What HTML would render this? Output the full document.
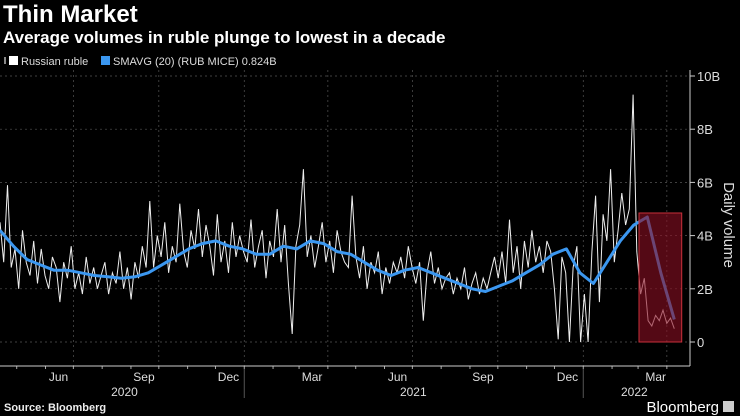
<!DOCTYPE html>
<html><head><meta charset="utf-8"><style>
body{margin:0;background:#000;width:740px;height:416px;overflow:hidden;font-family:"Liberation Sans",sans-serif;color:#fff}
#title{position:absolute;left:3px;top:1px;font-size:24px;font-weight:bold}
#sub{position:absolute;left:3px;top:28px;font-size:17px;font-weight:bold}
svg{position:absolute;left:0;top:0}
</style></head><body>
<div id="title">Thin Market</div>
<div id="sub">Average volumes in ruble plunge to lowest in a decade</div>
<svg id="c" width="740" height="416"></svg>
<script>
const yTicks=[0,2,4,6,8,10];
const yTickLabels=["0","2B","4B","6B","8B","10B"];
const monthTicks=["2020-06-15","2020-09-15","2020-12-15","2021-03-15","2021-06-15","2021-09-15","2021-12-15","2022-03-20"];
const monthLabels=["Jun","Sep","Dec","Mar","Jun","Sep","Dec","Mar"];
const yearLabels=["2020","2021","2022"];
const yearCenters=["2020-08-25","2021-07-02","2022-02-25"];
const yearBounds=["2021-01-01","2022-01-01"];
const seriesStart="2020-04-13", seriesEnd="2022-04-09", smaEnd="2022-04-09";
const ruble=[4.5,3.0,5.9,2.8,3.5,2.0,4.2,3.0,2.5,3.8,2.2,
3.5,2.5,2.0,3.2,2.8,1.5,3.0,2.4,3.6,2.0,2.6,1.8,3.2,2.2,2.8,2.0,
2.5,3.0,1.8,2.6,2.2,3.4,2.0,2.8,1.6,3.0,2.4,3.6,2.8,
5.3,2.8,4.0,3.2,4.5,2.6,3.6,3.0,5.2,3.4,2.8,4.2,3.5,
5.0,3.2,4.4,3.6,2.5,4.8,3.0,3.8,2.6,4.5,3.2,4.0,3.4,
3.0,4.6,2.8,3.6,4.2,2.4,3.8,3.2,5.0,3.0,4.4,2.2,0.3,3.6,
4.4,6.5,3.2,4.0,2.8,3.6,4.5,3.0,3.8,2.6,4.2,3.4,3.0,
2.8,5.5,3.2,2.4,3.6,2.0,3.0,2.6,3.4,1.8,2.8,2.2,3.0,2.6,
3.2,2.4,3.6,2.8,2.2,3.0,0.8,2.6,3.4,2.2,2.8,2.0,2.4,
2.6,1.8,2.4,2.0,2.8,1.6,2.2,2.6,1.8,2.4,2.0,2.6,3.2,
2.4,3.4,2.2,4.6,2.6,3.6,2.0,3.8,2.8,4.2,3.0,3.6,2.6,3.8,
3.4,2.0,0.1,3.2,2.6,0.0,2.8,3.6,0.0,1.8,0.0,3.4,5.5,
1.5,4.8,3.8,6.5,3.0,4.2,5.6,4.4,5.0,9.3,3.4,
1.8,2.4,0.8,0.6,1.0,0.8,1.2,0.7,0.9,0.5];
const sma=[4.2,3.6,3.1,2.9,2.7,2.7,2.6,2.5,2.45,2.4,2.45,2.6,2.9,3.2,3.5,3.7,3.8,3.6,3.5,3.3,3.3,3.6,3.5,3.8,3.7,3.4,3.3,3.0,2.7,2.5,2.7,2.8,2.6,2.4,2.2,2.0,1.9,2.1,2.3,2.6,2.9,3.3,3.5,2.6,2.2,3.0,3.8,4.4,4.7,2.6,0.85];
const highlightStart="2022-03-02", highlightEnd="2022-04-17", highlightTop=4.85;

const NS="http://www.w3.org/2000/svg";
const svg=document.getElementById('c');
const d=s=>Date.parse(s)/864e5;
const t0=d(seriesStart), x0=0, pxPerDay=339/365;
const xs=t=>x0+(t-t0)*pxPerDay;
const ys=v=>342-v*26.6;
const AX=366;
function el(tag,attrs,parent){const e=document.createElementNS(NS,tag);for(const k in attrs)e.setAttribute(k,attrs[k]);(parent||svg).appendChild(e);return e;}
yTicks.forEach((v,i)=>{
 const g=el('line',{x1:0,x2:690,y1:ys(v),y2:ys(v),stroke:'#555','stroke-dasharray':'2,3','stroke-width':0.7});
 
 
 el('line',{x1:690,x2:695,y1:ys(v),y2:ys(v),stroke:'#ccc'});
 const t=el('text',{x:697,y:ys(v)+5,fill:'#ddd','font-size':13});t.textContent=yTickLabels[i];
 
 
});
const monthStarts=[];
for(let y=2020;y<=2022;y++)for(let m=1;m<=12;m++){const s=`${y}-${String(m).padStart(2,'0')}-01`;const x=xs(d(s));if(x>=0&&x<=690)monthStarts.push([m,x]);}
monthStarts.forEach(([m,x])=>{
 if(m%3==1){const g=el('line',{x1:x,x2:x,y1:70,y2:AX,stroke:'#555','stroke-dasharray':'2,3','stroke-width':0.7});
  
  }
 el('line',{x1:x,x2:x,y1:AX,y2:AX+3,stroke:'#aaa'});
});
monthTicks.forEach((s,i)=>{const t=el('text',{x:xs(d(s)),y:381,fill:'#ddd','font-size':12,'text-anchor':'middle'});t.textContent=monthLabels[i];
 
 });
yearLabels.forEach((s,i)=>{const t=el('text',{x:xs(d(yearCenters[i])),y:396,fill:'#ddd','font-size':12,'text-anchor':'middle'});t.textContent=s;
 
 });
yearBounds.forEach(s=>el('line',{x1:xs(d(s)),x2:xs(d(s)),y1:AX+3,y2:398,stroke:'#555'}));
el('line',{x1:0,x2:690,y1:AX,y2:AX,stroke:'#ccc'});
el('line',{x1:690,x2:690,y1:70,y2:AX,stroke:'#ccc'});
const tEnd=d(seriesEnd);
let p=ruble.map((v,i)=>xs(t0+i*(tEnd-t0)/(ruble.length-1)).toFixed(1)+','+ys(v).toFixed(1)).join(' ');
const rl=el('polyline',{points:p,fill:'none',stroke:'#eee','stroke-width':1});


const tS=d(smaEnd);
p=sma.map((v,i)=>xs(t0+i*(tS-t0)/(sma.length-1)).toFixed(1)+','+ys(v).toFixed(1)).join(' ');
const sl=el('polyline',{points:p,fill:'none',stroke:'#3b97f0','stroke-width':3,'stroke-linejoin':'round'});


const hx=xs(d(highlightStart)),hw=xs(d(highlightEnd))-hx;
const hb=el('rect',{x:hx,y:ys(highlightTop),width:hw,height:ys(0)-ys(highlightTop),fill:'rgba(140,15,35,0.6)',stroke:'#c8303a','stroke-width':1});


const at=el('text',{transform:'translate(724,225) rotate(90)',fill:'#ddd','font-size':15,'text-anchor':'middle'});at.textContent='Daily volume';


el('rect',{x:4,y:57,width:2,height:7,fill:'#888'});
el('rect',{x:9,y:56,width:9,height:9,fill:'#fff'});
const l1=el('text',{x:21,y:65,fill:'#ddd','font-size':11});l1.textContent='Russian ruble';


el('rect',{x:101,y:56,width:9,height:9,fill:'#3b97f0'});
const l2=el('text',{x:113,y:65,fill:'#ddd','font-size':11});l2.textContent='SMAVG (20) (RUB MICE) 0.824B';


const f1=el('text',{x:4,y:411,fill:'#eee','font-size':11,'font-weight':'bold'});f1.textContent='Source: Bloomberg';


const f2=el('text',{x:719,y:412,fill:'#fff','font-size':15,'text-anchor':'end'});f2.textContent='Bloomberg';


el('rect',{x:723,y:401,width:11,height:11,fill:'#ccc'});
</script>
</body></html>
